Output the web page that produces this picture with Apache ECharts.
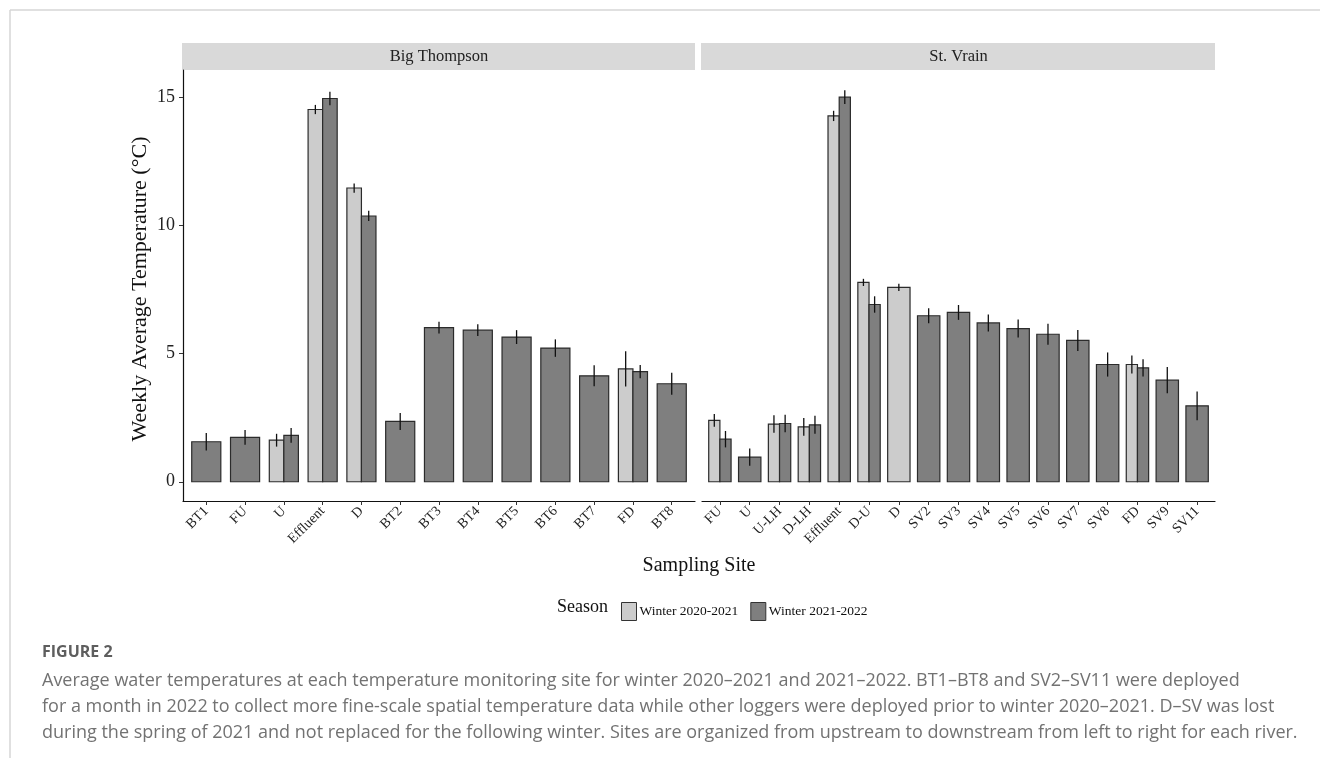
<!DOCTYPE html>
<html>
<head>
<meta charset="utf-8">
<script src="https://cdn.jsdelivr.net/npm/echarts@6/dist/echarts.min.js"></script>
<style>
  html, body { margin: 0; padding: 0; background: #ffffff; }
  #chart { width: 1320px; height: 758px; }
</style>
</head>
<body>
<div id="chart"></div>
<script>
// Big Thompson sites, upstream to downstream
const btSites = ['BT1', 'FU', 'U', 'Effluent', 'D', 'BT2', 'BT3', 'BT4', 'BT5', 'BT6', 'BT7', 'FD', 'BT8'];
const btWinter2021 = [null, null, 1.62, 14.51, 11.45, null, null, null, null, null, null, 4.40, null];
const btWinter2021Err = [null, null, 0.25, 0.18, 0.18, null, null, null, null, null, null, 0.69, null];
const btWinter2122 = [1.56, 1.73, 1.81, 14.94, 10.36, 2.35, 6.01, 5.91, 5.64, 5.21, 4.13, 4.29, 3.82];
const btWinter2122Err = [0.34, 0.29, 0.29, 0.26, 0.20, 0.33, 0.23, 0.23, 0.27, 0.34, 0.41, 0.26, 0.43];

// St. Vrain sites, upstream to downstream
const svSites = ['FU', 'U', 'U-LH', 'D-LH', 'Effluent', 'D-U', 'D', 'SV2', 'SV3', 'SV4', 'SV5', 'SV6', 'SV7', 'SV8', 'FD', 'SV9', 'SV11'];
const svWinter2021 = [2.39, null, 2.25, 2.14, 14.26, 7.77, 7.58, null, null, null, null, null, null, null, 4.57, null, null];
const svWinter2021Err = [0.25, null, 0.34, 0.35, 0.20, 0.14, 0.14, null, null, null, null, null, null, null, 0.35, null, null];
const svWinter2122 = [1.66, 0.96, 2.27, 2.22, 14.99, 6.91, null, 6.47, 6.60, 6.19, 5.97, 5.75, 5.51, 4.57, 4.44, 3.96, 2.96];
const svWinter2122Err = [0.32, 0.34, 0.34, 0.35, 0.27, 0.32, null, 0.29, 0.29, 0.33, 0.35, 0.41, 0.41, 0.47, 0.34, 0.51, 0.56];

const panelTitles = ['Big Thompson', 'St. Vrain'];
const seasonNames = ['Winter 2020-2021', 'Winter 2021-2022'];
const yTicks = [0, 5, 10, 15];

const SERIF = '"Liberation Serif", "Times New Roman", serif';
const SANS = '"Open Sans", "Noto Sans", sans-serif';
const seasonColors = ['#cccccc', '#7f7f7f'];
const BAR_WIDTH = 0.75;

// rows: [index, value, error, paired]
function rows(vals, errs, other) {
  const out = [];
  vals.forEach((v, i) => {
    if (v == null) return;
    out.push([i, v, errs[i], other[i] != null ? 1 : 0]);
  });
  return out;
}

function makeRender(season) {
  return function (params, api) {
    const cat = api.value(0), val = api.value(1), err = api.value(2), paired = api.value(3);
    const base = api.coord([cat, 0]);
    const top = api.coord([cat, val]);
    const full = api.size([BAR_WIDTH, 0])[0];
    let w = full, x0 = base[0] - full / 2;
    if (paired) { w = full / 2; x0 = base[0] - full / 2 + season * w; }
    const cx = x0 + w / 2;
    const hi = api.coord([cat, val + err])[1];
    const lo = api.coord([cat, val - err])[1];
    return {
      type: 'group',
      children: [
        { type: 'rect', shape: { x: x0, y: top[1], width: w, height: base[1] - top[1] },
          style: { fill: seasonColors[season], stroke: '#2b2b2b', lineWidth: 1.2 } },
        { type: 'line', shape: { x1: cx, y1: hi, x2: cx, y2: lo },
          style: { stroke: '#111111', lineWidth: 1.3 } }
      ]
    };
  };
}

const panels = [
  { sites: btSites, a: btWinter2021, ae: btWinter2021Err, b: btWinter2122, be: btWinter2122Err, left: 183, width: 512 },
  { sites: svSites, a: svWinter2021, ae: svWinter2021Err, b: svWinter2122, be: svWinter2122Err, left: 702, width: 513 }
];
const TOP = 70, HEIGHT = 431;

const grids = [], xAxes = [], yAxes = [], series = [], graphics = [];

panels.forEach((p, k) => {
  grids.push({ left: p.left, top: TOP, width: p.width, height: HEIGHT });
  const idx = p.sites.map((_, i) => i);
  xAxes.push({
    type: 'value', gridIndex: k, min: -0.6, max: p.sites.length - 1 + 0.6,
    splitLine: { show: false },
    axisLine: { show: true, onZero: false, lineStyle: { color: '#111', width: 1.2 } },
    axisTick: { show: true, customValues: idx, length: 4, lineStyle: { color: '#333', width: 1 } },
    axisLabel: {
      customValues: idx, rotate: 45, margin: 8,
      formatter: v => p.sites[Math.round(v)] || '',
      fontFamily: SERIF, fontSize: 14, color: '#222'
    }
  });
  yAxes.push({
    type: 'value', gridIndex: k, min: -0.75, max: 16.05, show: k === 0,
    splitLine: { show: false },
    axisLine: { show: true, onZero: false, lineStyle: { color: '#111', width: 1.2 } },
    axisTick: { show: true, customValues: yTicks, length: 4, lineStyle: { color: '#333', width: 1 } },
    axisLabel: { customValues: yTicks, margin: 8, fontFamily: SERIF, fontSize: 18, color: '#222' }
  });
  [[p.a, p.ae, p.b], [p.b, p.be, p.a]].forEach((s, season) => {
    series.push({
      type: 'custom', name: seasonNames[season], xAxisIndex: k, yAxisIndex: k,
      itemStyle: { color: seasonColors[season], borderColor: '#2b2b2b', borderWidth: 1 },
      renderItem: makeRender(season),
      encode: { x: 0, y: 1 },
      data: rows(s[0], s[1], s[2]),
      silent: true
    });
  });
  // facet strip
  graphics.push({ type: 'rect', left: p.left - 1, top: 43, shape: { width: p.width + 1, height: 27 },
    style: { fill: '#d9d9d9' } });
  graphics.push({ type: 'text', x: p.left + p.width / 2, y: 57,
    style: { text: panelTitles[k], fontFamily: SERIF, fontSize: 16.5, fill: '#222', align: 'center', verticalAlign: 'middle' } });
});

// page frame
graphics.push({ type: 'line', shape: { x1: 10, y1: 10, x2: 1320, y2: 10 }, style: { stroke: '#d6d6d6', lineWidth: 1.5 } });
graphics.push({ type: 'line', shape: { x1: 10, y1: 10, x2: 10, y2: 758 }, style: { stroke: '#d6d6d6', lineWidth: 1.5 } });

// axis titles
graphics.push({ type: 'text', x: 140, y: 289, rotation: Math.PI / 2,
  style: { text: 'Weekly Average Temperature (°C)', fontFamily: SERIF, fontSize: 22, fill: '#111', align: 'center', verticalAlign: 'middle' } });
graphics.push({ type: 'text', x: 699, y: 566,
  style: { text: 'Sampling Site', fontFamily: SERIF, fontSize: 20, fill: '#111', align: 'center', verticalAlign: 'middle' } });
graphics.push({ type: 'text', x: 557, y: 607,
  style: { text: 'Season', fontFamily: SERIF, fontSize: 18, fill: '#111', align: 'left', verticalAlign: 'middle' } });

// caption
const captionLines = [
  'Average water temperatures at each temperature monitoring site for winter 2020\u20132021 and 2021\u20132022. BT1\u2013BT8 and SV2\u2013SV11 were deployed',
  'for a month in 2022 to collect more fine-scale spatial temperature data while other loggers were deployed prior to winter 2020\u20132021. D\u2013SV was lost',
  'during the spring of 2021 and not replaced for the following winter. Sites are organized from upstream to downstream from left to right for each river.'
];
graphics.push({ type: 'text', x: 42, y: 652,
  style: { text: 'FIGURE 2', fontFamily: SANS, fontSize: 16, fontWeight: 'bold', fill: '#5e5e5e', verticalAlign: 'middle' } });
captionLines.forEach((t, i) => {
  graphics.push({ type: 'text', x: 42, y: 681 + i * 26,
    style: { text: t, fontFamily: SANS, fontSize: 18, fill: '#727272', verticalAlign: 'middle' } });
});

const chart = echarts.init(document.getElementById('chart'), null, { renderer: 'canvas' });
chart.setOption({
  animation: false,
  backgroundColor: '#ffffff',
  grid: grids,
  xAxis: xAxes,
  yAxis: yAxes,
  legend: {
    left: 616, top: 597, icon: 'rect', itemWidth: 15, itemHeight: 18, itemGap: 12,
    selectedMode: false,
    data: seasonNames.map((n, i) => ({ name: n, itemStyle: { color: seasonColors[i], borderColor: '#333', borderWidth: 1 } })),
    textStyle: { fontFamily: SERIF, fontSize: 13.5, color: '#111', padding: [0, 0, 0, -2] }
  },
  graphic: graphics,
  series: series
});
</script>
</body>
</html>
